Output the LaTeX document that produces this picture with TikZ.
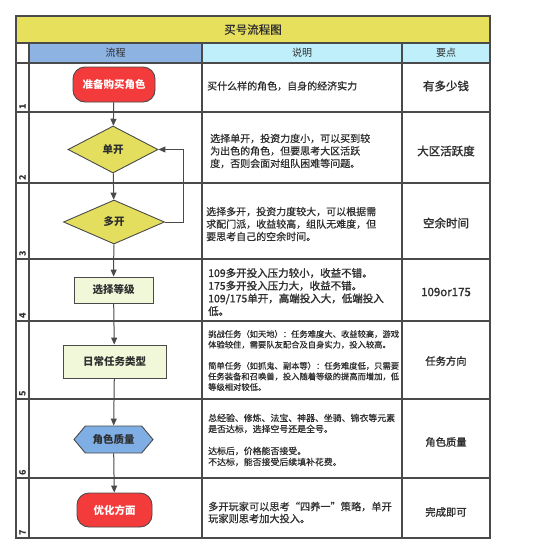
\documentclass[tikz,border=0pt]{standalone}
\usepackage{fontspec}
\setmainfont{Noto Sans CJK SC}
\newfontfamily\medfont[FakeBold=0.5]{Noto Sans CJK SC}
\newfontfamily\semifont[FakeBold=1.4]{Noto Sans CJK SC}
\usetikzlibrary{arrows.meta,shapes.geometric,shapes.symbols}
\definecolor{linec}{HTML}{4A4A4A}
\definecolor{titley}{HTML}{E7E05C}
\definecolor{hdrblue}{HTML}{8DB3E2}
\definecolor{hdrcyan}{HTML}{BFEFFA}
\definecolor{termred}{HTML}{F43B3B}
\definecolor{diay}{HTML}{E3DE5E}
\definecolor{boxg}{HTML}{F1F8DA}
\definecolor{hexb}{HTML}{7EAEE4}
\definecolor{txt}{HTML}{2E2E2E}
\newcommand{\fsz}[2]{\fontsize{#1}{#2}\selectfont}
\begin{document}
\begin{tikzpicture}[x=1pt,y=-1pt,
  gridline/.style={draw=linec,line width=1.1pt},
  shapeline/.style={draw=linec,line width=0.9pt},
  flowarrow/.style={draw=linec,line width=1pt,-{Triangle[length=7pt,width=6pt]}},
  terminal/.style={shapeline,fill=termred,rounded corners=12pt,inner sep=0pt,text=white,font=\fsz{10.5}{12}\bfseries},
  decision/.style={shapeline,fill=diay,diamond,inner sep=0pt,text=txt,font=\fsz{10.5}{12}\bfseries},
  process/.style={shapeline,fill=boxg,rectangle,inner sep=0pt,text=txt,font=\fsz{10.5}{12}\bfseries},
  quality/.style={shapeline,fill=hexb,signal,signal to=east and west,signal pointer angle=100,inner sep=0pt,text=txt,font=\fsz{10.5}{12}\bfseries},
  desc/.style={anchor=west,align=left,inner sep=0pt,text=txt},
  keyp/.style={anchor=center,inner sep=0pt,text=txt,font=\fsz{11.5}{13}\semifont},
  lane/.style={rotate=90,anchor=west,inner sep=0pt,text=txt,font=\fsz{9}{10}\bfseries},
  hdr/.style={inner sep=0pt,text=txt,font=\fsz{10}{12}}]
\useasboundingbox[fill=white] (0,0) rectangle (540,555);
% fills
\fill[titley] (16,16) rectangle (490,43);
\fill[hdrblue] (29,43) rectangle (202,63);
\fill[hdrcyan] (202,43) rectangle (490,63);
% grid
\draw[gridline] (16,16) rectangle (490,538);
\foreach \yy in {43,63,112,183,259,321,399,478} \draw[gridline] (16,\yy) -- (490,\yy);
\foreach \xx in {29,202,402} \draw[gridline] (\xx,43) -- (\xx,538);
% title and headers
\node[hdr,font=\fsz{11.5}{13}\medfont] (title) at (253,29.5) {买号流程图};
\node[hdr] (h1) at (115.5,53) {流程};
\node[hdr] (h2) at (302,53) {说明};
\node[hdr] (h3) at (446,53) {要点};
% lane numbers
\node[lane] (l1) at (22.5,110) {1};
\node[lane] (l2) at (22.5,181) {2};
\node[lane] (l3) at (22.5,257) {3};
\node[lane] (l4) at (22.5,319) {4};
\node[lane] (l5) at (22.5,397) {5};
\node[lane] (l6) at (22.5,476) {6};
\node[lane] (l7) at (22.5,536) {7};
% flow shapes
\node[terminal,minimum width=82pt,minimum height=35pt] (s1) at (114,84.5) {准备购买角色};
\node[decision,minimum width=90pt,minimum height=47pt] (s2) at (113,149.5) {单开};
\node[decision,minimum width=101pt,minimum height=44pt] (s3) at (114,222) {多开};
\node[process,minimum width=79pt,minimum height=26pt] (s4) at (113.5,290) {选择等级};
\node[process,minimum width=103pt,minimum height=33pt] (s5) at (114.5,361.5) {日常任务类型};
\node[quality,minimum width=79pt,minimum height=27pt] (s6) at (113.5,439.5) {角色质量};
\node[terminal,minimum width=75pt,minimum height=34pt] (s7) at (114.5,510) {优化方面};
\coordinate (loopa) at (183,222);
\coordinate (loopb) at (183,149.5);
% connectors
\draw[flowarrow] (s1) -- (s2);
\draw[flowarrow] (s2) -- (s3);
\draw[flowarrow] (s3) -- (s4);
\draw[flowarrow] (s4) -- (s5);
\draw[flowarrow] (s5) -- (s6);
\draw[flowarrow] (s6) -- (s7);
\draw[flowarrow] (s3.east) -- (loopa) -- (loopb) -- (s2.east);
% descriptions
\node[desc,font=\fsz{10}{12.5}\medfont] (d1) at (207,86) {买什么样的角色，自身的经济实力};
\node[desc,font=\fsz{10}{12.5}\medfont] (d2) at (210,151) {选择单开，投资力度小，可以买到较\\为出色的角色，但要思考大区活跃\\度，否则会面对组队困难等问题。};
\node[desc,font=\fsz{10}{12.5}\medfont] (d3) at (206,224) {选择多开，投资力度较大，可以根据需\\求配门派，收益较高，组队无难度，但\\要思考自己的空余时间。};
\node[desc,font=\fsz{10.5}{12.7}\semifont] (d4) at (208,292) {109多开投入压力较小，收益不错。\\175多开投入压力大，收益不错。\\109/175单开，高端投入大，低端投入\\低。};
\node[desc,font=\fsz{8.3}{10.6}\medfont] (d5) at (208,360.5) {挑战任务（如天地）：任务难度大、收益较高，游戏\\体验较佳，需要队友配合及自身实力，投入较高。\\[10.6pt]简单任务（如抓鬼、副本等）：任务难度低，只需要\\任务装备和召唤兽，投入随着等级的提高而增加，低\\等级相对较低。};
\node[desc,font=\fsz{8.9}{11}\medfont] (d6) at (208,440) {总经验、修炼、法宝、神器、坐骑、锦衣等元素\\是否达标，选择空号还是全号。\\[11pt]达标后，价格能否接受。\\不达标，能否接受后续填补花费。};
\node[desc,font=\fsz{10.2}{12}\medfont] (d7) at (208,512.5) {多开玩家可以思考“四养一”策略，单开\\玩家则思考加大投入。};
% key points
\node[keyp] (k1) at (446,86) {有多少钱};
\node[keyp] (k2) at (446,151) {大区活跃度};
\node[keyp] (k3) at (446,223) {空余时间};
\node[keyp] (k4) at (446,292) {109or175};
\node[keyp,font=\fsz{10.3}{12}\semifont] (k5) at (446,361) {任务方向};
\node[keyp,font=\fsz{10.3}{12}\semifont] (k6) at (446,442) {角色质量};
\node[keyp,font=\fsz{10.3}{12}\semifont] (k7) at (446,512) {完成即可};
\end{tikzpicture}
\end{document}
